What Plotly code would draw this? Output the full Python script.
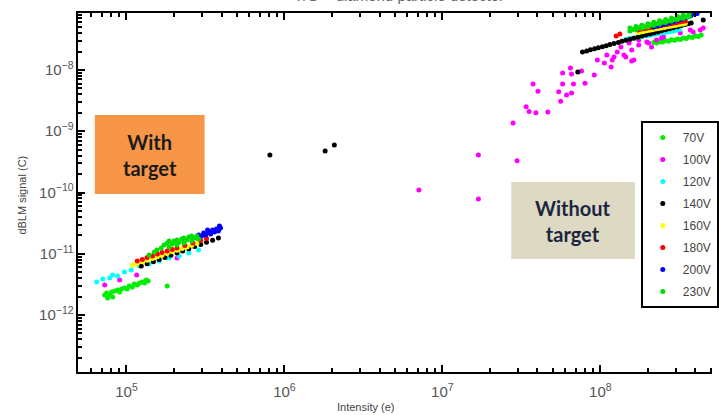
import plotly.graph_objects as go

# ---------------- data ----------------
series_names = ["70V", "100V", "120V", "140V", "160V", "180V", "200V", "230V"]
series_colors = ["#00ee00", "#ff00ff", "#00ffff", "#000000", "#ffff00", "#ff0000", "#0000ff", "#00dd00"]

v70_x = [7.28e4, 7.49e4, 7.60e4, 7.83e4, 8.06e4, 8.17e4, 8.41e4, 8.79e4, 9.04e4, 9.31e4, 9.71e4,
         1.01e5, 1.04e5, 1.09e5, 1.12e5, 1.17e5, 1.21e5, 1.26e5, 1.30e5, 1.33e5, 1.37e5, 1.81e5,
         2.18e8, 2.37e8, 2.59e8, 2.82e8, 3.08e8, 3.35e8, 3.65e8, 3.99e8, 4.35e8,
         2.27e8, 2.48e8, 2.70e8, 2.95e8, 3.21e8, 3.50e8, 3.82e8, 4.17e8]
v70_y = [2.12e-12, 2.29e-12, 1.90e-12, 2.12e-12, 2.37e-12, 1.97e-12, 2.46e-12, 2.56e-12, 2.37e-12, 2.66e-12, 2.76e-12,
         2.66e-12, 2.97e-12, 2.86e-12, 3.21e-12, 3.09e-12, 3.33e-12, 3.46e-12, 3.33e-12, 3.73e-12, 3.59e-12, 2.97e-12,
         2.80e-8, 2.90e-8, 3.00e-8, 3.10e-8, 3.21e-8, 3.33e-8, 3.46e-8, 3.59e-8, 3.73e-8,
         2.75e-8, 2.85e-8, 2.95e-8, 3.05e-8, 3.15e-8, 3.27e-8, 3.40e-8, 3.52e-8]

v100_x = [7.28e4, 9.04e4, 1.16e5, 2.09e5,
          7.1e6, 1.69e7, 1.69e7, 2.97e7, 2.8e7, 3.39e7, 3.54e7, 3.91e7, 4.65e7, 3.75e7, 4.03e7,
          5.45e7, 5.61e7, 6.11e7, 6.57e7, 5.77e7, 6.76e7, 8.0e7, 9.16e7, 5.77e7, 6.47e7, 6.57e7, 7.6e7,
          9.57e7, 1.06e8, 1.10e8, 1.17e8, 1.19e8, 1.28e8, 1.45e8, 1.58e8, 1.63e8, 1.75e8, 1.97e8, 2.11e8,
          2.51e8, 3.21e8, 3.71e8, 4.29e8, 1.22e8, 1.41e8, 1.58e8, 1.35e8, 1.52e8, 1.75e8, 2.02e8, 2.27e8,
          2.44e8, 3.87e8, 4.48e8]
v100_y = [3.09e-12, 3.73e-12, 4.50e-12, 8.53e-12,
          1.1e-10, 7.8e-11, 4.1e-10, 3.3e-10, 1.36e-9, 2.5e-9, 2.1e-9, 2.0e-9, 2.06e-9, 5.9e-9, 4.5e-9,
          4.4e-9, 3.1e-9, 3.9e-9, 4.2e-9, 5.9e-9, 5.9e-9, 6.1e-9, 8.3e-9, 8.9e-9, 1.08e-8, 8.6e-9, 9.6e-9,
          1.46e-8, 1.30e-8, 1.76e-8, 1.12e-8, 1.46e-8, 1.97e-8, 1.63e-8, 2.12e-8, 1.46e-8, 2.56e-8, 2.87e-8, 2.37e-8,
          3.46e-8, 4.0e-8, 4.5e-8, 4.5e-8, 1.63e-8, 1.76e-8, 1.40e-8, 2.37e-8, 2.76e-8, 3.09e-8, 2.76e-8, 3.09e-8,
          3.33e-8, 4.17e-8, 4.85e-8]

v120_x = [6.49e4, 7.08e4, 7.83e4, 8.17e4, 8.79e4, 9.71e4, 1.07e5, 1.21e5, 1.39e5, 1.61e5, 1.86e5, 2.15e5, 2.48e5, 2.86e5,
          1.45e8, 1.58e8, 1.73e8, 1.88e8, 2.05e8, 2.24e8, 2.44e8, 2.66e8, 2.90e8, 3.16e8,
          1.51e8, 1.65e8, 1.80e8, 1.96e8, 2.14e8, 2.34e8, 2.55e8, 2.78e8, 3.03e8]
v120_y = [3.46e-12, 3.87e-12, 4.02e-12, 4.50e-12, 4.33e-12, 5.04e-12, 5.43e-12, 6.31e-12, 6.80e-12, 7.62e-12, 8.53e-12,
          9.19e-12, 1.03e-11, 1.15e-11,
          3.15e-8, 3.29e-8, 3.42e-8, 3.55e-8, 3.70e-8, 3.85e-8, 4.00e-8, 4.17e-8, 4.33e-8, 4.52e-8,
          3.22e-8, 3.36e-8, 3.49e-8, 3.62e-8, 3.78e-8, 3.93e-8, 4.09e-8, 4.25e-8, 4.43e-8]

v140_x = [1.24e5, 1.35e5, 1.48e5, 1.61e5, 1.75e5, 1.91e5, 2.09e5, 2.27e5, 2.48e5, 2.70e5, 2.95e5, 3.21e5, 3.51e5, 3.82e5,
          8.09e5, 1.81e6, 2.07e6, 7.2e7,
          7.71e7, 8.66e7, 9.71e7, 1.09e8, 1.22e8, 1.37e8, 1.54e8, 1.73e8, 1.94e8, 2.18e8, 2.44e8, 2.74e8,
          3.08e8, 3.45e8, 3.76e8, 4.48e8,
          8.2e7, 9.2e7, 1.03e8, 1.15e8, 1.30e8, 1.45e8, 1.63e8, 1.83e8, 2.06e8, 2.31e8, 2.59e8, 2.90e8, 3.26e8, 3.60e8]
v140_y = [6.31e-12, 6.86e-12, 7.41e-12, 8.05e-12, 8.71e-12, 9.46e-12, 1.03e-11, 1.11e-11, 1.21e-11, 1.31e-11, 1.42e-11,
          1.54e-11, 1.66e-11, 1.81e-11,
          4.09e-10, 4.76e-10, 5.97e-10, 9.3e-9,
          1.97e-8, 2.13e-8, 2.30e-8, 2.49e-8, 2.70e-8, 2.93e-8, 3.17e-8, 3.43e-8, 3.71e-8, 4.02e-8, 4.35e-8, 4.71e-8,
          5.09e-8, 5.51e-8, 5.85e-8, 6.55e-8,
          2.05e-8, 2.22e-8, 2.40e-8, 2.60e-8, 2.81e-8, 3.05e-8, 3.30e-8, 3.57e-8, 3.87e-8, 4.18e-8, 4.53e-8, 4.90e-8, 5.30e-8, 5.68e-8]

v160_x = [1.09e5, 1.17e5, 1.26e5, 1.35e5, 1.46e5, 1.57e5, 1.68e5, 1.81e5, 1.95e5, 2.09e5, 2.25e5, 2.42e5, 2.59e5, 2.79e5,
          1.73e8, 1.88e8, 2.05e8, 2.24e8, 2.44e8, 2.66e8, 2.90e8, 3.16e8, 3.45e8,
          1.80e8, 1.96e8, 2.14e8, 2.34e8, 2.55e8, 2.78e8, 3.03e8, 3.30e8]
v160_y = [6.55e-12, 6.95e-12, 7.41e-12, 7.87e-12, 8.39e-12, 8.91e-12, 9.50e-12, 1.01e-11, 1.08e-11, 1.14e-11, 1.22e-11,
          1.29e-11, 1.38e-11, 1.47e-11,
          4.09e-8, 4.26e-8, 4.45e-8, 4.65e-8, 4.85e-8, 5.06e-8, 5.27e-8, 5.51e-8, 5.74e-8,
          4.17e-8, 4.35e-8, 4.55e-8, 4.75e-8, 4.95e-8, 5.16e-8, 5.39e-8, 5.62e-8]

v180_x = [1.17e5, 1.26e5, 1.35e5, 1.46e5, 1.57e5, 1.68e5, 1.81e5, 1.95e5, 2.09e5, 2.34e5, 2.63e5, 2.95e5, 3.21e5,
          1.26e8, 1.33e8, 1.73e8, 1.88e8, 2.05e8, 2.24e8, 2.44e8, 2.66e8, 2.90e8, 3.16e8, 3.45e8,
          1.80e8, 1.96e8, 2.14e8, 2.34e8, 2.55e8, 2.78e8, 3.03e8, 3.30e8]
v180_y = [7.62e-12, 8.05e-12, 8.69e-12, 9.19e-12, 9.91e-12, 1.05e-11, 1.11e-11, 1.17e-11, 1.24e-11, 1.36e-11, 1.50e-11,
          1.65e-11, 1.77e-11,
          3.59e-8, 3.87e-8, 4.50e-8, 4.69e-8, 4.89e-8, 5.12e-8, 5.33e-8, 5.56e-8, 5.79e-8, 6.05e-8, 6.31e-8,
          4.60e-8, 4.79e-8, 5.00e-8, 5.22e-8, 5.45e-8, 5.67e-8, 5.92e-8, 6.18e-8]

v200_x = [2.79e5, 2.86e5, 2.99e5, 3.08e5, 3.17e5, 3.26e5, 3.31e5, 3.41e5, 3.51e5, 3.61e5, 3.71e5, 3.82e5, 3.88e5, 3.94e5,
          2.18e8, 2.44e8, 2.74e8, 3.08e8, 3.45e8, 3.76e8, 3.99e8, 4.10e8,
          2.31e8, 2.59e8, 2.90e8, 3.26e8, 3.60e8]
v200_y = [1.81e-11, 2.02e-11, 1.95e-11, 2.18e-11, 2.02e-11, 2.44e-11, 2.26e-11, 2.10e-11, 2.44e-11, 2.26e-11, 2.54e-11,
          2.35e-11, 2.84e-11, 2.63e-11,
          5.04e-8, 5.43e-8, 5.85e-8, 6.43e-8, 7.06e-8, 7.76e-8, 8.36e-8, 8.36e-8,
          5.23e-8, 5.64e-8, 6.14e-8, 6.74e-8, 7.40e-8]

v230_x = [1.39e5, 1.50e5, 1.56e5, 1.66e5, 1.73e5, 1.81e5, 1.86e5, 1.95e5, 2.00e5, 2.09e5, 2.15e5, 2.24e5, 2.31e5,
          2.41e5, 2.48e5, 2.59e5, 2.67e5, 2.79e5, 2.86e5, 1.86e5, 2.09e5, 2.31e5, 2.59e5,
          1.54e8, 1.68e8, 1.83e8, 2.00e8, 2.18e8, 2.37e8, 2.59e8, 2.82e8, 3.08e8, 3.35e8, 3.65e8,
          1.54e8, 1.68e8, 1.83e8, 2.00e8, 2.18e8, 2.37e8, 2.59e8, 2.82e8, 3.08e8, 3.35e8, 3.65e8,
          1.61e8, 1.75e8, 1.91e8, 2.09e8, 2.27e8, 2.48e8, 2.70e8, 2.95e8, 3.21e8, 3.50e8]
v230_y = [9.55e-12, 1.07e-11, 1.15e-11, 1.24e-11, 1.39e-11, 1.50e-11, 1.29e-11, 1.44e-11, 1.62e-11, 1.39e-11, 1.56e-11,
          1.74e-11, 1.50e-11, 1.68e-11, 1.88e-11, 1.62e-11, 1.81e-11, 1.95e-11, 1.74e-11, 1.62e-11, 1.68e-11, 1.81e-11, 1.95e-11,
          4.85e-8, 5.12e-8, 5.39e-8, 5.70e-8, 6.01e-8, 6.34e-8, 6.68e-8, 7.04e-8, 7.44e-8, 7.85e-8, 8.28e-8,
          4.33e-8, 4.57e-8, 4.81e-8, 5.09e-8, 5.37e-8, 5.65e-8, 5.97e-8, 6.29e-8, 6.65e-8, 7.01e-8, 7.39e-8,
          4.58e-8, 4.84e-8, 5.10e-8, 5.40e-8, 5.70e-8, 6.00e-8, 6.32e-8, 6.67e-8, 7.03e-8, 7.42e-8]

series_x = [v70_x, v100_x, v120_x, v140_x, v160_x, v180_x, v200_x, v230_x]
series_y = [v70_y, v100_y, v120_y, v140_y, v160_y, v180_y, v200_y, v230_y]

x_label = "Intensity (e)"
y_label = "dBLM signal (C)"
chart_title = "T/O \u2013 diamond particle detector"
box1_text = "<b>With<br>target</b>"
box2_text = "<b>Without<br>target</b>"

# ---------------- figure ----------------
W, H = 719, 415
ML, MR, MT, MB = 78, 0, 13, 43
pw, ph = W - ML - MR, H - MT - MB


def px(xp):
    return (xp - ML) / pw


def py(yp):
    return (H - MB - yp) / ph


fig = go.Figure()
for name, col, xs, ys in zip(series_names, series_colors, series_x, series_y):
    fig.add_trace(go.Scatter(
        x=xs, y=ys, mode="markers", name=name, legendgroup=name,
        marker=dict(color=col, size=5, line=dict(width=0)),
    ))

axis_common = dict(
    type="log", showgrid=False, zeroline=False,
    showline=True, linecolor="black", linewidth=2,
    ticks="inside", ticklen=7, tickwidth=2, tickcolor="black",
    exponentformat="power", dtick=1,
    tickfont=dict(family="Liberation Sans, Arial", size=12, color="#555555"),
    minor=dict(ticks="inside", ticklen=4, tickwidth=1.5, tickcolor="black", dtick="D1", showgrid=False),
)

fig.update_xaxes(range=[4.693, 8.707], mirror="ticks", ticklabelstandoff=6, **axis_common)
fig.update_yaxes(range=[-12.93, -7.07], **axis_common)

# annotation boxes
fig.add_shape(type="rect", xref="paper", yref="paper",
              x0=px(95), x1=px(206), y0=py(194), y1=py(115),
              fillcolor="#f79646", line=dict(width=0), layer="below")
fig.add_shape(type="rect", xref="paper", yref="paper",
              x0=px(516), x1=px(641), y0=py(259), y1=py(182),
              fillcolor="#ddd9c3", line=dict(width=0), layer="below")

box_font = "Lato, Open Sans, sans-serif"
fig.add_annotation(xref="paper", yref="paper", x=px(151), y=py(155), xanchor="center", yanchor="middle",
                   text=box1_text, showarrow=False,
                   font=dict(family=box_font, size=20, color="#1a1a1a"), align="center")
fig.add_annotation(xref="paper", yref="paper", x=px(578), y=py(221), xanchor="center", yanchor="middle",
                   text=box2_text, showarrow=False,
                   font=dict(family=box_font, size=20, color="#1c2540"), align="center")

# axis titles and (cropped) chart title
fig.add_annotation(xref="paper", yref="paper", x=px(369), y=py(407), xanchor="center", yanchor="middle",
                   text=x_label, showarrow=False,
                   font=dict(family="Liberation Sans, Arial", size=11, color="#444444"))
fig.add_annotation(xref="paper", yref="paper", x=px(21), y=py(195), xanchor="center", yanchor="middle",
                   text=y_label, showarrow=False, textangle=-90,
                   font=dict(family="Liberation Sans, Arial", size=11, color="#444444"))
fig.add_annotation(xref="paper", yref="paper", x=px(403), y=py(-5), xanchor="center", yanchor="middle",
                   text=chart_title, showarrow=False,
                   font=dict(family="Liberation Sans, Arial", size=15, color="#666666"))

fig.update_layout(
    width=W, height=H,
    margin=dict(l=ML, r=MR, t=MT, b=MB, pad=0),
    paper_bgcolor="white", plot_bgcolor="white",
    showlegend=True,
    legend=dict(
        x=px(647), y=py(121), xanchor="left", yanchor="top",
        bgcolor="white", bordercolor="black", borderwidth=2,
        font=dict(family="Liberation Sans, Arial", size=12, color="#444444"),
        tracegroupgap=3, itemsizing="trace", itemwidth=30,
    ),
)

fig.write_html("out.html")
